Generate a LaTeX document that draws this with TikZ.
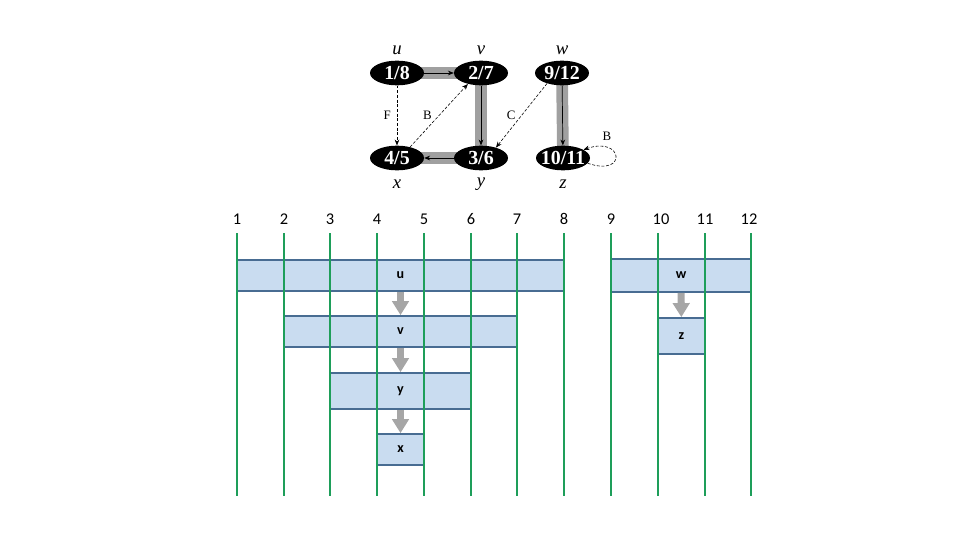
\documentclass[tikz,border=0pt]{standalone}
\usepackage{fontspec}
\setmainfont{Carlito}
\newfontfamily\graphfont{Liberation Serif}
\usetikzlibrary{shapes.geometric, arrows.meta}

\definecolor{barfill}{RGB}{201,220,240}
\definecolor{barline}{RGB}{72,108,146}
\definecolor{gridgreen}{RGB}{30,158,90}
\definecolor{flowgray}{RGB}{166,166,166}
\definecolor{bandgray}{RGB}{160,160,160}

\pgfdeclarelayer{bands}
\pgfsetlayers{bands,main}

\begin{document}
\begin{tikzpicture}[x=0.03cm, y=-0.03cm,
    vertex/.style={ellipse, fill=black, text=white, inner sep=0pt,
        minimum width=1.62cm, minimum height=0.74cm, font=\graphfont\fontsize{17}{17}\selectfont\bfseries},
    vname/.style={font=\graphfont\itshape\fontsize{16}{16}\selectfont, inner sep=0pt},
    band/.style={draw=bandgray, line width=10pt},
    tree/.style={draw=black, -{Stealth[length=5pt, width=4pt]}, line width=0.6pt},
    nontree/.style={draw=black, dashed, dash pattern=on 2.5pt off 1.5pt, -{Stealth[length=5pt, width=4pt]}, line width=0.5pt},
    elbl/.style={font=\graphfont\fontsize{11}{11}\selectfont, inner sep=1pt},
    num/.style={font=\fontsize{14}{14}\selectfont, inner sep=0pt},
    gridline/.style={draw=gridgreen, line width=1.6pt},
    bar/.style={rectangle, draw=barline, fill=barfill, line width=1.5pt, inner sep=0pt,
        font=\bfseries\fontsize{12}{12}\selectfont},
    flow/.style={draw=flowgray, line width=6pt, -{Triangle[length=12pt, width=14pt]}}
]
\useasboundingbox (0,0) rectangle (960,540);

% --- Graph ---
\node[vertex] (u) at (397,73) {\makebox[0pt]{1/8}};
\node[vertex] (v) at (481,73) {\makebox[0pt]{2/7}};
\node[vertex] (w) at (562,73) {\makebox[0pt]{9/12}};
\node[vertex] (x) at (397,158) {\makebox[0pt]{4/5}};
\node[vertex] (y) at (481,158) {\makebox[0pt]{3/6}};
\node[vertex] (z) at (563,158) {\makebox[0pt]{10/11}};

\node[vname] (lu) at (397,50) {u};
\node[vname] (lv) at (481,50) {v};
\node[vname] (lw) at (562,50) {w};
\node[vname] (lx) at (397,184) {x};
\node[vname] (ly) at (481,184) {y};
\node[vname] (lz) at (563,184) {z};

% --- Tree edges ---
\begin{pgfonlayer}{bands}
\draw[band] (u.center) -- (v.center);
\draw[band] (v.center) -- (y.center);
\draw[band] (y.center) -- (x.center);
\draw[band] (w.center) -- (z.center);
\end{pgfonlayer}
\draw[tree] (u) -- (v);
\draw[tree] (v) -- (y);
\draw[tree] (y) -- (x);
\draw[tree] (w) -- (z);

% --- Other edges ---
\draw[nontree] (u) -- (x) node[elbl, midway, left=4pt] {F};
\draw[nontree] (x.40) -- (v.220) node[elbl, midway, left=5pt] {B};
\draw[nontree] (w.215) -- (y.35) node[elbl, midway, left=4pt] {C};
\draw[nontree] (z.-12) .. controls +(40,14) and +(40,-14) .. (z.22);
\node[elbl] (lb) at (607,136) {B};

% --- Time axis ---
\node[num] (n1) at (237,219) {1};
\node[num] (n2) at (284,219) {2};
\node[num] (n3) at (330,219) {3};
\node[num] (n4) at (377,219) {4};
\node[num] (n5) at (424,219) {5};
\node[num] (n6) at (471,219) {6};
\node[num] (n7) at (517,219) {7};
\node[num] (n8) at (564,219) {8};
\node[num] (n9) at (611,219) {9};
\node[num] (n10) at (661,219) {10};
\node[num] (n11) at (705,219) {11};
\node[num] (n12) at (749,219) {12};

% --- Intervals ---
\node[bar, minimum width=9.81cm, minimum height=0.93cm] (bu) at (400.5,275.5) {u};
\node[bar, minimum width=6.99cm, minimum height=0.93cm] (bv) at (400.5,331.5) {v};
\node[bar, minimum width=4.23cm, minimum height=1.08cm] (by) at (400.5,391) {y};
\node[bar, minimum width=1.41cm, minimum height=0.93cm] (bx) at (400.5,449.5) {x};
\node[bar, minimum width=4.20cm, minimum height=0.99cm] (bw) at (681,275.5) {w};
\node[bar, minimum width=1.41cm, minimum height=1.08cm] (bz) at (681.5,336) {z};

\draw[gridline] (237,233) -- (237,496);
\draw[gridline] (284,233) -- (284,496);
\draw[gridline] (330,233) -- (330,496);
\draw[gridline] (377,233) -- (377,496);
\draw[gridline] (424,233) -- (424,496);
\draw[gridline] (471,233) -- (471,496);
\draw[gridline] (517,233) -- (517,496);
\draw[gridline] (564,233) -- (564,496);
\draw[gridline] (611,233) -- (611,496);
\draw[gridline] (658,233) -- (658,496);
\draw[gridline] (705,233) -- (705,496);
\draw[gridline] (751,233) -- (751,496);

\draw[flow] (bu) -- (bv);
\draw[flow] (bv) -- (by);
\draw[flow] (by) -- (bx);
\draw[flow] (bw) -- (bz);

\end{tikzpicture}
\end{document}
